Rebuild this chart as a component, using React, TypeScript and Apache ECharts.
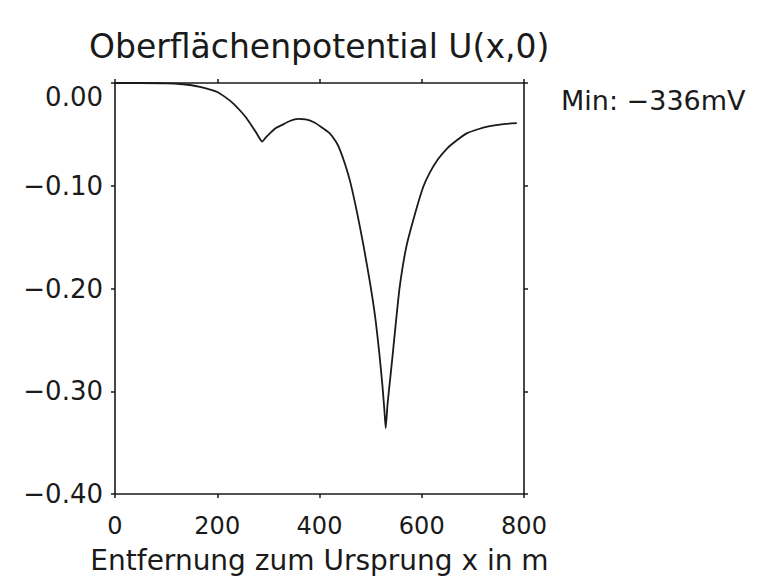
import React, { useEffect, useRef } from "react";
import * as echarts from "echarts";

const titleText = "Oberflächenpotential U(x,0)";
const xAxisName = "Entfernung zum Ursprung x in m";
const minNote = "Min: −336mV";

const xTicks = [0, 200, 400, 600, 800];
const yTicks = [0, -0.1, -0.2, -0.3, -0.4];

const xMeters = [
  0, 50, 100, 133, 150, 166, 183, 199, 215, 231, 245, 257, 268, 277, 283, 288,
  295, 303, 314, 326, 342, 358, 373, 388, 404, 420, 432, 440, 450, 460, 473,
  486, 499, 509, 517, 523, 527, 529.5, 533, 538, 543, 548, 557, 570, 587, 603,
  616, 632, 649, 668, 688, 710, 733, 760, 786,
];
const uVolt = [
  0, 0, -0.0003, -0.0012, -0.0022, -0.0038, -0.006, -0.0085, -0.0135, -0.0198,
  -0.027, -0.034, -0.042, -0.049, -0.054, -0.057, -0.053, -0.049, -0.044,
  -0.041, -0.037, -0.035, -0.0355, -0.038, -0.043, -0.049, -0.057, -0.065,
  -0.079, -0.096, -0.125, -0.158, -0.195, -0.228, -0.263, -0.294, -0.319,
  -0.336, -0.313, -0.289, -0.265, -0.240, -0.198, -0.159, -0.127, -0.101,
  -0.087, -0.074, -0.064, -0.056, -0.049, -0.045, -0.042, -0.040, -0.039,
];

const FONT = "DejaVu Sans";
const INK = "#1a1a1a";

export default function App() {
  const ref = useRef<HTMLDivElement>(null);

  useEffect(() => {
    if (!ref.current) return;
    const chart = echarts.init(ref.current, undefined, { renderer: "svg" });
    const fmtY = (v: number) => {
      const s = Math.abs(v).toFixed(2);
      if (Math.abs(v) < 1e-9) return "{z|" + s + "}";
      return "{n|" + (v < 0 ? "−" : "") + s + "}";
    };
    const labelFont = { fontFamily: FONT, fontSize: 26, color: INK };
    const tickStyle = { show: true, inside: false, length: 4, lineStyle: { color: INK, width: 1.5 } };
    const lineStyle = { show: true, onZero: false, lineStyle: { color: INK, width: 1.6 } };
    chart.setOption({
      animation: false,
      backgroundColor: "#ffffff",
      title: {
        text: titleText,
        left: 84,
        top: 25,
        textStyle: { fontFamily: FONT, fontSize: 33, fontWeight: "normal", color: INK },
      },
      grid: { left: 115, right: 240, top: 83, bottom: 86, containLabel: false },
      xAxis: [
        {
          type: "value",
          position: "bottom",
          min: xTicks[0],
          max: xTicks[xTicks.length - 1],
          interval: 200,
          axisLine: lineStyle,
          axisTick: tickStyle,
          splitLine: { show: false },
          axisLabel: { fontFamily: FONT, fontSize: 24, color: INK, margin: 20 },
          name: xAxisName,
          nameLocation: "middle",
          nameGap: 52,
          nameTextStyle: { fontFamily: FONT, fontSize: 28, color: INK },
        },
        {
          type: "value",
          position: "top",
          min: xTicks[0],
          max: xTicks[xTicks.length - 1],
          interval: 200,
          axisLine: lineStyle,
          axisTick: tickStyle,
          splitLine: { show: false },
          axisLabel: { show: false },
        },
      ],
      yAxis: [
        {
          type: "value",
          position: "left",
          min: yTicks[yTicks.length - 1],
          max: yTicks[0],
          interval: 0.1,
          axisLine: lineStyle,
          axisTick: tickStyle,
          splitLine: { show: false },
          axisLabel: {
            ...labelFont,
            margin: 12,
            formatter: fmtY,
            rich: {
              z: { ...labelFont, padding: [28, 0, 0, 0] },
              n: { ...labelFont },
            },
          },
        },
        {
          type: "value",
          position: "right",
          min: yTicks[yTicks.length - 1],
          max: yTicks[0],
          interval: 0.1,
          axisLine: lineStyle,
          axisTick: tickStyle,
          splitLine: { show: false },
          axisLabel: { show: false },
        },
      ],
      series: [
        {
          type: "line",
          xAxisIndex: 0,
          yAxisIndex: 0,
          data: xMeters.map((x, i) => [x, uVolt[i]]),
          showSymbol: false,
          smooth: 0.2,
          lineStyle: { color: INK, width: 1.8 },
        },
      ],
      graphic: [
        {
          type: "text",
          left: 561,
          top: 87,
          style: { text: minNote, font: `27px "${FONT}"`, fill: INK },
        },
      ],
    });
    return () => chart.dispose();
  }, []);

  return (
    <div
      ref={ref}
      style={{ position: "fixed", left: 0, top: 0, width: 764, height: 580 }}
    />
  );
}
